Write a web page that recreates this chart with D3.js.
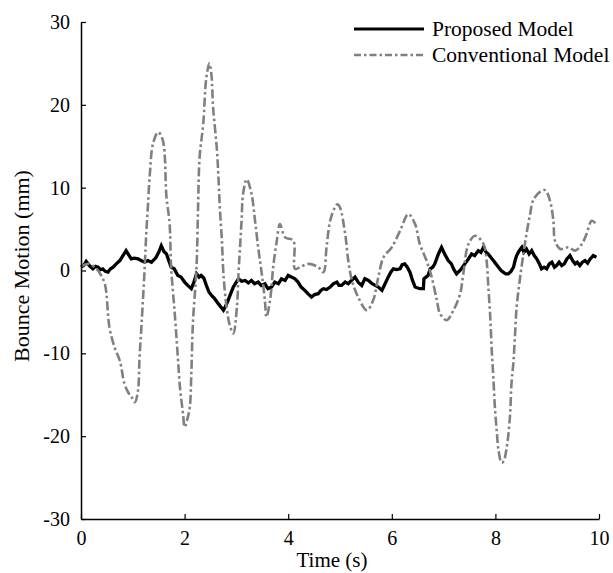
<!DOCTYPE html>
<html>
<head>
<meta charset="utf-8">
<script src="https://cdn.jsdelivr.net/npm/d3@7"></script>
<style>
  html, body { margin: 0; padding: 0; background: #fff; }
  svg { display: block; }
  text { font-family: "Liberation Serif", "Times New Roman", serif; fill: #000; }
</style>
</head>
<body>
<svg id="chart" width="613" height="573"></svg>
<script>
// ---- Data ----
const seriesNames = ["Proposed Model", "Conventional Model"];
const xTicks = [0, 2, 4, 6, 8, 10];
const yTicks = [-30, -20, -10, 0, 10, 20, 30];

const proposedTime = [0,0.05,0.10,0.16,0.23,0.28,0.33,0.38,0.42,0.47,0.52,0.57,0.62,0.68,0.75,0.81,0.87,0.92,0.97,1.03,1.10,1.16,1.23,1.29,1.36,1.41,1.45,1.50,1.55,1.60,1.65,1.70,1.74,1.80,1.87,1.93,2.00,2.06,2.13,2.18,2.23,2.28,2.32,2.37,2.42,2.47,2.52,2.58,2.65,2.70,2.75,2.80,2.84,2.89,2.94,2.99,3.04,3.10,3.17,3.23,3.29,3.35,3.42,3.48,3.55,3.61,3.68,3.74,3.81,3.87,3.94,4.00,4.07,4.13,4.19,4.25,4.32,4.38,4.45,4.51,4.58,4.63,4.68,4.74,4.81,4.87,4.94,4.98,5.03,5.10,5.16,5.22,5.29,5.35,5.42,5.48,5.55,5.62,5.68,5.74,5.81,5.87,5.93,5.98,6.03,6.09,6.16,6.20,6.25,6.30,6.35,6.40,6.45,6.54,6.61,6.62,6.66,6.70,6.74,6.79,6.83,6.90,6.96,7.02,7.09,7.15,7.20,7.25,7.33,7.41,7.48,7.54,7.60,7.67,7.72,7.77,7.82,7.86,7.91,7.96,8.01,8.06,8.11,8.15,8.20,8.25,8.30,8.35,8.38,8.41,8.46,8.51,8.55,8.60,8.65,8.70,8.75,8.80,8.85,8.89,8.94,8.99,9.04,9.09,9.14,9.18,9.23,9.28,9.33,9.38,9.44,9.49,9.54,9.58,9.63,9.68,9.73,9.78,9.83,9.89,9.95];
const proposedValue = [0.4,0.6,1.1,0.6,0.2,0.5,0.4,0.1,0.2,-0.1,-0.2,0.2,0.4,0.8,1.2,1.8,2.4,1.9,1.4,1.5,1.4,1.2,1.0,1.2,1.0,1.3,1.6,2.2,3.0,2.3,2.0,1.1,0.4,0.2,-0.6,-0.8,-1.4,-1.8,-2.2,-1.4,-0.4,-0.8,-0.6,-0.9,-1.8,-2.6,-3.0,-3.4,-4.0,-4.4,-4.8,-4.2,-3.6,-2.8,-2.0,-1.5,-1.0,-1.3,-1.2,-1.5,-1.2,-1.6,-1.4,-1.8,-1.6,-2.2,-2.0,-1.4,-1.6,-1.0,-1.2,-0.6,-0.8,-1.0,-1.4,-2.0,-2.4,-2.8,-3.2,-2.9,-2.8,-2.4,-2.2,-2.3,-2.0,-1.6,-1.4,-1.8,-1.8,-1.4,-1.6,-1.2,-0.8,-1.4,-1.8,-1.0,-1.2,-1.6,-1.8,-2.0,-2.4,-1.6,-0.8,-0.2,0.2,0.1,0.2,0.7,0.8,0.4,-0.2,-1.2,-2.0,-2.2,-2.2,-1.0,-0.8,-0.6,0.2,0.4,0.8,2.0,2.8,2.0,1.2,0.8,0.1,-0.4,0.1,0.8,1.4,2.0,1.8,2.4,2.2,2.8,2.2,2.0,1.6,1.2,0.8,0.4,0.0,-0.2,-0.4,-0.4,-0.1,0.4,1.2,1.8,2.4,2.8,2.2,2.6,2.0,2.4,1.8,1.4,0.8,0.2,0.4,0.2,0.8,1.0,0.4,0.6,1.0,0.6,0.8,1.4,1.8,1.2,0.8,1.0,0.6,1.0,1.2,0.9,1.4,1.8,1.6];

const conventionalTime = [0,0.15,0.30,0.37,0.46,0.55,0.65,0.75,0.84,0.91,0.98,1.04,1.10,1.13,1.17,1.23,1.26,1.29,1.33,1.39,1.49,1.58,1.65,1.71,1.74,1.81,1.87,1.91,1.97,2.00,2.05,2.10,2.13,2.16,2.23,2.26,2.29,2.36,2.42,2.48,2.52,2.55,2.62,2.65,2.68,2.72,2.75,2.81,2.88,2.94,3.01,3.04,3.07,3.10,3.13,3.20,3.29,3.36,3.42,3.49,3.55,3.58,3.65,3.71,3.78,3.84,3.94,4.10,4.13,4.23,4.39,4.58,4.68,4.74,4.81,4.90,4.95,5.00,5.10,5.16,5.23,5.35,5.52,5.64,5.74,5.84,6.00,6.16,6.32,6.45,6.54,6.67,6.77,6.87,6.93,7.06,7.19,7.32,7.38,7.48,7.61,7.77,7.83,7.86,7.90,7.93,7.96,7.99,8.03,8.06,8.12,8.16,8.22,8.28,8.31,8.35,8.38,8.41,8.47,8.54,8.60,8.67,8.73,8.86,8.96,9.05,9.12,9.15,9.25,9.41,9.54,9.67,9.76,9.86,9.95];
const conventionalValue = [0.5,0.8,0.2,-0.4,-1.6,-6.9,-9.3,-10.9,-13.7,-14.7,-15.3,-15.9,-14.5,-10.5,-6.4,0.4,4.5,7.6,11.7,15.3,16.7,15.7,8.9,5.7,0.4,-5.2,-10.5,-14.1,-17.3,-18.9,-18.0,-16.5,-12.4,-6.4,0.4,7.6,13.7,17.7,23.3,25.0,23.5,19.7,14.9,11.7,7.6,3.6,-0.4,-4.4,-6.8,-7.6,-4.4,-0.4,2.8,6.0,9.3,11.0,9.3,6.0,2.8,-0.4,-3.6,-5.6,-3.6,0.4,3.6,5.6,4.0,3.6,0.2,0.4,0.8,0.4,-0.2,2.8,6.0,7.6,8.0,7.6,4.4,1.2,-1.2,-3.2,-4.8,-3.6,-0.8,1.6,2.8,4.8,6.8,5.6,3.2,1.2,-0.8,-3.6,-5.2,-6.0,-4.8,-2.8,-0.4,3.2,4.2,3.2,1.2,-1.6,-5.6,-9.7,-12.9,-16.5,-19.7,-21.7,-23.2,-23.0,-21.3,-17.7,-13.7,-10.9,-7.6,-4.4,-1.2,2.0,4.4,6.8,8.5,9.5,9.7,8.5,6.0,3.6,2.6,2.8,2.4,3.2,4.4,6.0,5.6];

// ---- Layout ----
const svg = d3.select("#chart");
const margin = { left: 81, top: 22, right: 14, bottom: 54 };
const W = 613, H = 573;
const x = d3.scaleLinear().domain([0, 10]).range([margin.left, W - margin.right]);
const y = d3.scaleLinear().domain([-30, 30]).range([H - margin.bottom, margin.top]);

const proposed = proposedTime.map((t, i) => ({ t, v: proposedValue[i] }));
const conventional = conventionalTime.map((t, i) => ({ t, v: conventionalValue[i] }));

const lineRaw = d3.line().x(d => x(d.t)).y(d => y(d.v));
const lineSmooth = d3.line().x(d => x(d.t)).y(d => y(d.v)).curve(d3.curveCatmullRom.alpha(0.5));

// series
svg.append("path").datum(proposed)
  .attr("d", lineRaw).attr("fill", "none")
  .attr("stroke", "#000").attr("stroke-width", 3.3)
  .attr("stroke-linejoin", "miter");

svg.append("path").datum(conventional)
  .attr("d", lineSmooth).attr("fill", "none")
  .attr("stroke", "#808080").attr("stroke-width", 2.6)
  .attr("stroke-dasharray", "9,3,2.5,3");

// axes
const xAxis = d3.axisBottom(x).tickValues(xTicks).tickSizeInner(-5).tickSizeOuter(0).tickPadding(12);
const yAxis = d3.axisLeft(y).tickValues(yTicks).tickSizeInner(-5).tickSizeOuter(0).tickPadding(11);

const gx = svg.append("g").attr("transform", `translate(0,${y(-30)})`).call(xAxis);
const gy = svg.append("g").attr("transform", `translate(${x(0)},0)`).call(yAxis);
[gx, gy].forEach(g => {
  g.select(".domain").attr("stroke", "#000").attr("stroke-width", 1.5);
  g.selectAll(".tick line").attr("stroke", "#000").attr("stroke-width", 1.2);
  g.selectAll(".tick text").attr("font-family", '"Liberation Serif", serif')
    .attr("font-size", 20).attr("fill", "#000");
});
gy.selectAll(".tick text").text(d => d < 0 ? "-" + Math.abs(d) : d);

// axis titles
svg.append("text").attr("x", 332).attr("y", 567)
  .attr("text-anchor", "middle").attr("font-size", 21).text("Time (s)");
svg.append("text")
  .attr("transform", "translate(29,266) rotate(-90)")
  .attr("text-anchor", "middle").attr("font-size", 22).text("Bounce Motion (mm)");

// legend
const legend = svg.append("g");
const legendStyles = [
  { stroke: "#000", width: 3.2, dash: null },
  { stroke: "#808080", width: 2.6, dash: "7,3,2.5,3" }
];
seriesNames.forEach((name, i) => {
  const ly = 29 + i * 26;
  legend.append("line").attr("x1", 354).attr("x2", 424).attr("y1", ly).attr("y2", ly)
    .attr("stroke", legendStyles[i].stroke).attr("stroke-width", legendStyles[i].width)
    .attr("stroke-dasharray", legendStyles[i].dash);
  legend.append("text").attr("x", 432).attr("y", ly + 7).attr("font-size", 21.5).text(name);
});
</script>
</body>
</html>
